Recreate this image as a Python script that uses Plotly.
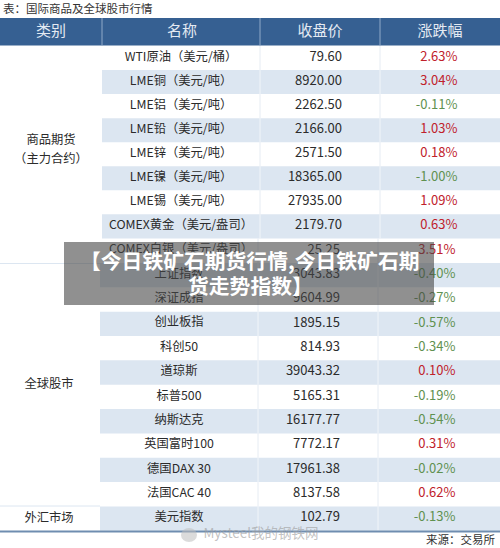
import plotly.graph_objects as go

FONT = "Noto Sans CJK SC"
title_text = "表：国际商品及全球股市行情"
headers = ["类别", "名称", "收盘价", "涨跌幅"]
names = ["WTI原油（美元/桶）", "LME铜（美元/吨）", "LME铝（美元/吨）", "LME铅（美元/吨）",
         "LME锌（美元/吨）", "LME镍（美元/吨）", "LME锡（美元/吨）", "COMEX黄金（美元/盎司）",
         "COMEX白银（美元/盎司）", "上证指数", "深证成指", "创业板指", "科创50", "道琼斯",
         "标普500", "纳斯达克", "英国富时100", "德国DAX 30", "法国CAC 40", "美元指数"]
prices = ["79.60", "8920.00", "2262.50", "2166.00", "2571.50", "18365.00", "27935.00", "2179.70",
          "25.25", "3043.83", "9604.99", "1895.15", "814.93", "39043.32", "5165.31", "16177.77",
          "7772.17", "17961.38", "8137.58", "102.79"]
changes = [2.63, 3.04, -0.11, 1.03, 0.18, -1.00, 1.09, 0.63,
           3.51, -0.40, -0.27, -0.57, -0.34, 0.10, -0.19, -0.54, 0.31, -0.02, 0.62, -0.13]
source_text = "来源：交易所"
watermark = "Mysteel我的钢铁网"
overlay_lines = ["【今日铁矿石期货行情,今日铁矿石期", "货走势指数】"]

NAVY, STRIPE, RED, GREEN, INK = "#366092", "#DCE6F1", "#C0212B", "#5F9150", "#2B2B2B"


def row_top(i):
    return 46 + 24.05 * i if i < 8 else 238.6 + 24.35 * (i - 8)


def cols(i):
    # upper and lower halves of the photographed table are offset by about 2 px
    return (102, 260, 380) if i < 8 else (100, 258, 378)


shapes = []


def rect(x0, y0, x1, y1, color, layer="below"):
    shapes.append(dict(type="rect", x0=x0, x1=x1, y0=y0, y1=y1, fillcolor=color,
                       line_width=0, layer=layer, xref="x", yref="y"))


def line(x0, y0, x1, y1, color, w=1):
    shapes.append(dict(type="line", x0=x0, x1=x1, y0=y0, y1=y1, layer="below",
                       line=dict(color=color, width=w), xref="x", yref="y"))


rect(0, 18, 500, 45.5, NAVY)
for x in (102, 260, 380):
    line(x, 18, x, 45.5, "#8FA9C8", 1)
for i in range(len(names)):
    c = cols(i)
    top, bot = row_top(i), row_top(i + 1)
    if i % 2 == 1:
        rect(c[0], top, 500, bot, STRIPE)
    line(c[1], top, c[1], bot, "#E6ECF3" if i % 2 == 0 else "#F1F5F9", 1)
    line(c[2], top, c[2], bot, "#E6ECF3" if i % 2 == 0 else "#F1F5F9", 1)
line(0, 263.5, 100, 263.5, STRIPE, 1)
line(0, 506, 100, 506, "#DCE6F1", 1)
line(0, 531.5, 500, 531.5, "#6F8DB0", 2)
rect(64, 242, 434, 305, "rgba(70,70,70,0.6)", "above")
shapes.append(dict(type="circle", x0=181, x1=197, y0=528, y1=542, fillcolor="rgba(190,190,190,0.55)",
                   line_width=0, layer="above", xref="x", yref="y"))


def centers(idx):
    return [(row_top(i) + row_top(i + 1)) / 2 - 0.4 for i in idx]


idx = list(range(len(names)))
fig = go.Figure()


def txt(x, y, t, color=INK, size=13, pos="middle center", **kw):
    fig.add_trace(go.Scatter(x=x, y=y, text=t, mode="text", textposition=pos, hoverinfo="skip",
                             textfont=dict(family=FONT, size=size, color=color), **kw))


txt([3], [10], [title_text], "#333333", 11.5, "middle right")
txt([51, 182, 320, 440], [32.5] * 4, headers, "#E4EAF2", 15)
txt([181 if i < 9 else 179 for i in idx], centers(idx), names, size=12.3)
txt([342 if i < 8 else 340 for i in idx], centers(idx), prices, pos="middle left")
txt([457.5 if i < 8 else 455.5 for i in idx], centers(idx), [f"{v:.2f}%" for v in changes],
    [RED if v >= 0 else GREEN for v in changes], pos="middle left")
txt([51, 51], [141, 160], ["商品期货", "（主力合约）"], size=12.3)
txt([49], [385], ["全球股市"], size=12.3)
txt([49], [519], ["外汇市场"], size=12.3)
txt([495], [541], [source_text], "#333333", 11.5, "middle left")
txt([261], [535], [watermark], "rgba(160,160,160,0.65)", 13.5)

fig.update_traces(cliponaxis=False)
annos = [dict(x=250, y=y, text=f"<b>{t}</b>", showarrow=False, xref="x", yref="y",
              font=dict(family=FONT, size=20.8, color="#FFFFFF"))
         for t, y in zip(overlay_lines, (260, 285))]
fig.update_layout(width=500, height=548, margin=dict(l=0, r=0, t=0, b=0), showlegend=False,
                  paper_bgcolor="white", plot_bgcolor="white", shapes=shapes, annotations=annos,
                  xaxis=dict(range=[0, 500], visible=False, fixedrange=True),
                  yaxis=dict(range=[548, 0], visible=False, fixedrange=True))
fig.write_html("out.html", config={"displayModeBar": False},
               post_script="document.body.style.margin='0';document.body.style.overflow='hidden';")
